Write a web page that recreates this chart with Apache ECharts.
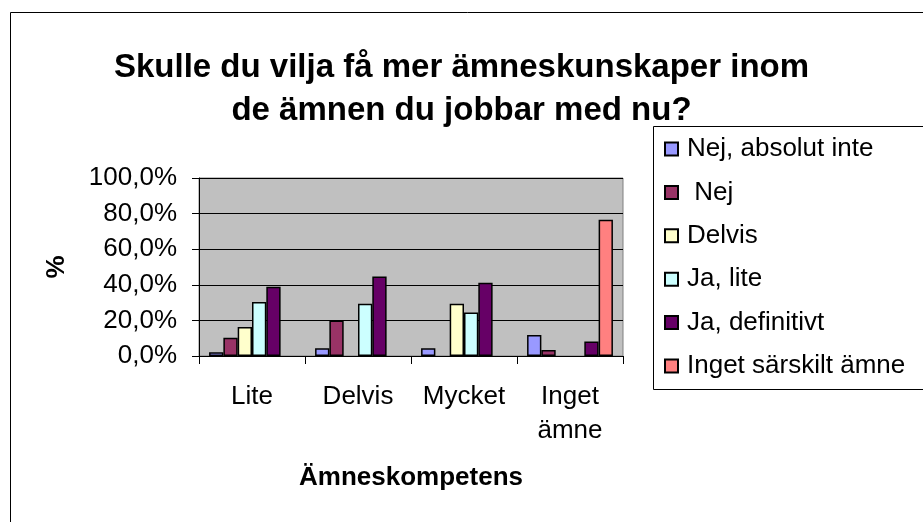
<!DOCTYPE html>
<html>
<head>
<meta charset="utf-8">
<script src="https://cdn.jsdelivr.net/npm/echarts@6/dist/echarts.min.js"></script>
<style>
  html, body { margin: 0; padding: 0; background: #fff; }
  #chartContainer { width: 923px; height: 522px; }
</style>
</head>
<body>
<div id="chartContainer"></div>
<script>
// Categories and series (percent)
const categories = ["Lite", "Delvis", "Mycket", "Inget ämne"];
const seriesNames = [
  "Nej, absolut inte",
  " Nej",
  "Delvis",
  "Ja, lite",
  "Ja, definitivt",
  "Inget särskilt ämne",
];
const nejAbsolutInte = [2.1, 4.3, 4.3, 11.8];
const nej = [10.3, 19.9, null, 3.4];
const delvis = [16.3, null, 29.3, null];
const jaLite = [30.4, 29.3, 24.4, null];
const jaDefinitivt = [38.9, 44.7, 41.1, 8.1];
const ingetAmne = [null, null, null, 76.6];
const seriesColors = ["#9999ff", "#993366", "#ffffcc", "#ccffff", "#660066", "#ff8080"];

function drawChart() {
  const chartElement = document.getElementById("chartContainer");
  const chart = echarts.init(chartElement);

  const fontFamily = "'Liberation Sans', Arial, sans-serif";
  const allValues = [nejAbsolutInte, nej, delvis, jaLite, jaDefinitivt, ingetAmne];

  const series = allValues.map((values, i) => ({
    name: seriesNames[i],
    type: "bar",
    data: values,
    barGap: "0%",
    barCategoryGap: "19%",
    itemStyle: {
      color: seriesColors[i],
      borderColor: "#000",
      borderWidth: 1.5,
    },
  }));

  chart.setOption({
    animation: false,
    textStyle: { fontFamily: fontFamily, color: "#000" },
    // Outer chart frame and legend frame, both run off the right edge
    graphic: [
      {
        type: "rect",
        shape: { x: 10.5, y: 12.5, width: 1000, height: 600 },
        style: { fill: "none", stroke: "#000", lineWidth: 1 },
        z: 0,
      },
      {
        type: "rect",
        shape: { x: 653.5, y: 126.5, width: 400, height: 263 },
        style: { fill: "#fff", stroke: "#000", lineWidth: 1 },
        z: 0,
      },
    ],
    title: {
      text: "Skulle du vilja få mer ämneskunskaper inom\nde ämnen du jobbar med nu?",
      left: "center",
      top: 41,
      textStyle: {
        fontFamily: fontFamily,
        fontSize: 33,
        fontWeight: "bold",
        lineHeight: 43,
        color: "#000",
      },
    },
    legend: {
      orient: "vertical",
      left: 653,
      top: 126,
      padding: [8, 10, 9, 11],
      itemGap: 13.4,
      itemWidth: 13,
      itemHeight: 13,
      icon: "rect",
      textStyle: {
        fontFamily: fontFamily,
        fontSize: 26,
        lineHeight: 30,
        color: "#000",
        padding: [0, 0, 0, 4],
      },
      data: seriesNames,
    },
    grid: {
      left: 199,
      right: 300,
      top: 178,
      bottom: 166,
      show: true,
      backgroundColor: "#c0c0c0",
      borderColor: "#808080",
      borderWidth: 1,
    },
    xAxis: {
      type: "category",
      data: categories,
      name: "Ämneskompetens",
      nameLocation: "middle",
      nameGap: 109,
      nameTextStyle: {
        fontFamily: fontFamily,
        fontSize: 26,
        fontWeight: "bold",
        color: "#000",
      },
      axisLine: { lineStyle: { color: "#000", width: 1 } },
      axisTick: { show: true, length: 8, lineStyle: { color: "#000" } },
      axisLabel: {
        interval: 0,
        margin: 24,
        fontSize: 26,
        lineHeight: 34,
        color: "#000",
        formatter: (value) => value.replace(" ", "\n"),
      },
    },
    yAxis: {
      type: "value",
      min: 0,
      max: 100,
      interval: 20,
      name: "%",
      nameLocation: "middle",
      nameRotate: 90,
      nameGap: 129,
      nameTextStyle: {
        fontFamily: fontFamily,
        fontSize: 26,
        fontWeight: "bold",
        color: "#000",
      },
      axisLine: { show: true, lineStyle: { color: "#000", width: 1 } },
      axisTick: { show: true, length: 7, lineStyle: { color: "#000" } },
      axisLabel: {
        margin: 22,
        fontSize: 26,
        color: "#000",
        formatter: (value) => value.toFixed(1).replace(".", ",") + "%",
      },
      splitLine: { show: true, lineStyle: { color: "#000", width: 1 } },
    },
    series: series,
  });
}

drawChart();
</script>
</body>
</html>
